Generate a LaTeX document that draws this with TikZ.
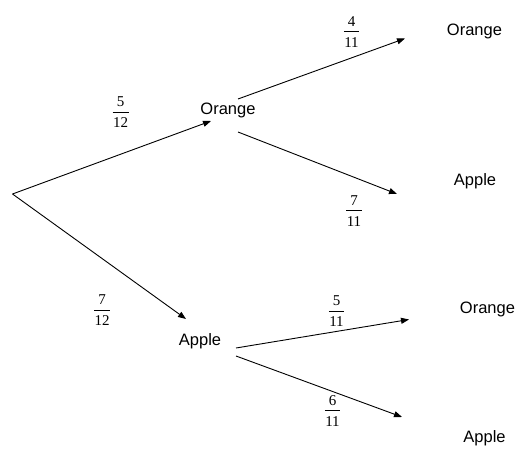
\documentclass[tikz,border=0pt]{standalone}
\usepackage{fontspec}
\setmainfont{Liberation Sans}
\newfontfamily\numserif{Liberation Serif}
\usetikzlibrary{arrows.meta}

\tikzset{
  branch/.style={line width=0.9pt, -{Triangle[length=8pt,width=6pt]}},
  outcome/.style={anchor=base, inner sep=0pt, font=\fontsize{16.5}{20}\selectfont},
  % the node is centred 2pt below the fraction bar
  prob/.style={inner sep=0pt, yshift=-2pt, font=\numserif\fontsize{15}{16}\selectfont},
}
% stacked fraction built from a small table
\newcommand{\pfrac}[2]{{\setlength{\arrayrulewidth}{0.6pt}%
  \begin{tabular}{@{\kern0.5pt}c@{\kern0.5pt}}#1\rule[-5pt]{0pt}{0pt}\\\hline\rule{0pt}{15.5pt}#2\end{tabular}}}

\begin{document}
\begin{tikzpicture}[x=1pt,y=-1pt]
  \useasboundingbox (0,0) rectangle (520,454);

  % start of the tree
  \coordinate (root) at (12.5,194);

  % first draw
  \node[outcome] (o) at (228,115) {Orange};
  \node[outcome] (a) at (200,346) {Apple};
  \coordinate (oIn) at (211,121);
  \coordinate (aIn) at (186,319);

  % second draw after an orange
  \coordinate (oOut1) at (238,99);
  \coordinate (oOut2) at (238,132);
  \coordinate (ooIn) at (405,38.5);
  \coordinate (oaIn) at (397,194);
  \node[outcome] (oo) at (474.5,35.5) {Orange};
  \node[outcome] (oa) at (475,186) {Apple};

  % second draw after an apple
  \coordinate (aOut1) at (236,348);
  \coordinate (aOut2) at (236,356);
  \coordinate (aoIn) at (409,319.5);
  \coordinate (aaIn) at (402,417);
  \node[outcome] (ao) at (487.5,314) {Orange};
  \node[outcome] (aa) at (484.5,443) {Apple};

  % branches
  \draw[branch] (root) -- (oIn);
  \draw[branch] (root) -- (aIn);
  \draw[branch] (oOut1) -- (ooIn);
  \draw[branch] (oOut2) -- (oaIn);
  \draw[branch] (aOut1) -- (aoIn);
  \draw[branch] (aOut2) -- (aaIn);

  % probabilities
  \node[prob] (p1) at (120.5,112) {\pfrac{5}{12}};
  \node[prob] (p2) at (102,310) {\pfrac{7}{12}};
  \node[prob] (p3) at (351.5,31.5) {\pfrac{4}{11}};
  \node[prob] (p4) at (354,210.5) {\pfrac{7}{11}};
  \node[prob] (p5) at (336.5,311) {\pfrac{5}{11}};
  \node[prob] (p6) at (332.5,410.5) {\pfrac{6}{11}};
\end{tikzpicture}
\end{document}
